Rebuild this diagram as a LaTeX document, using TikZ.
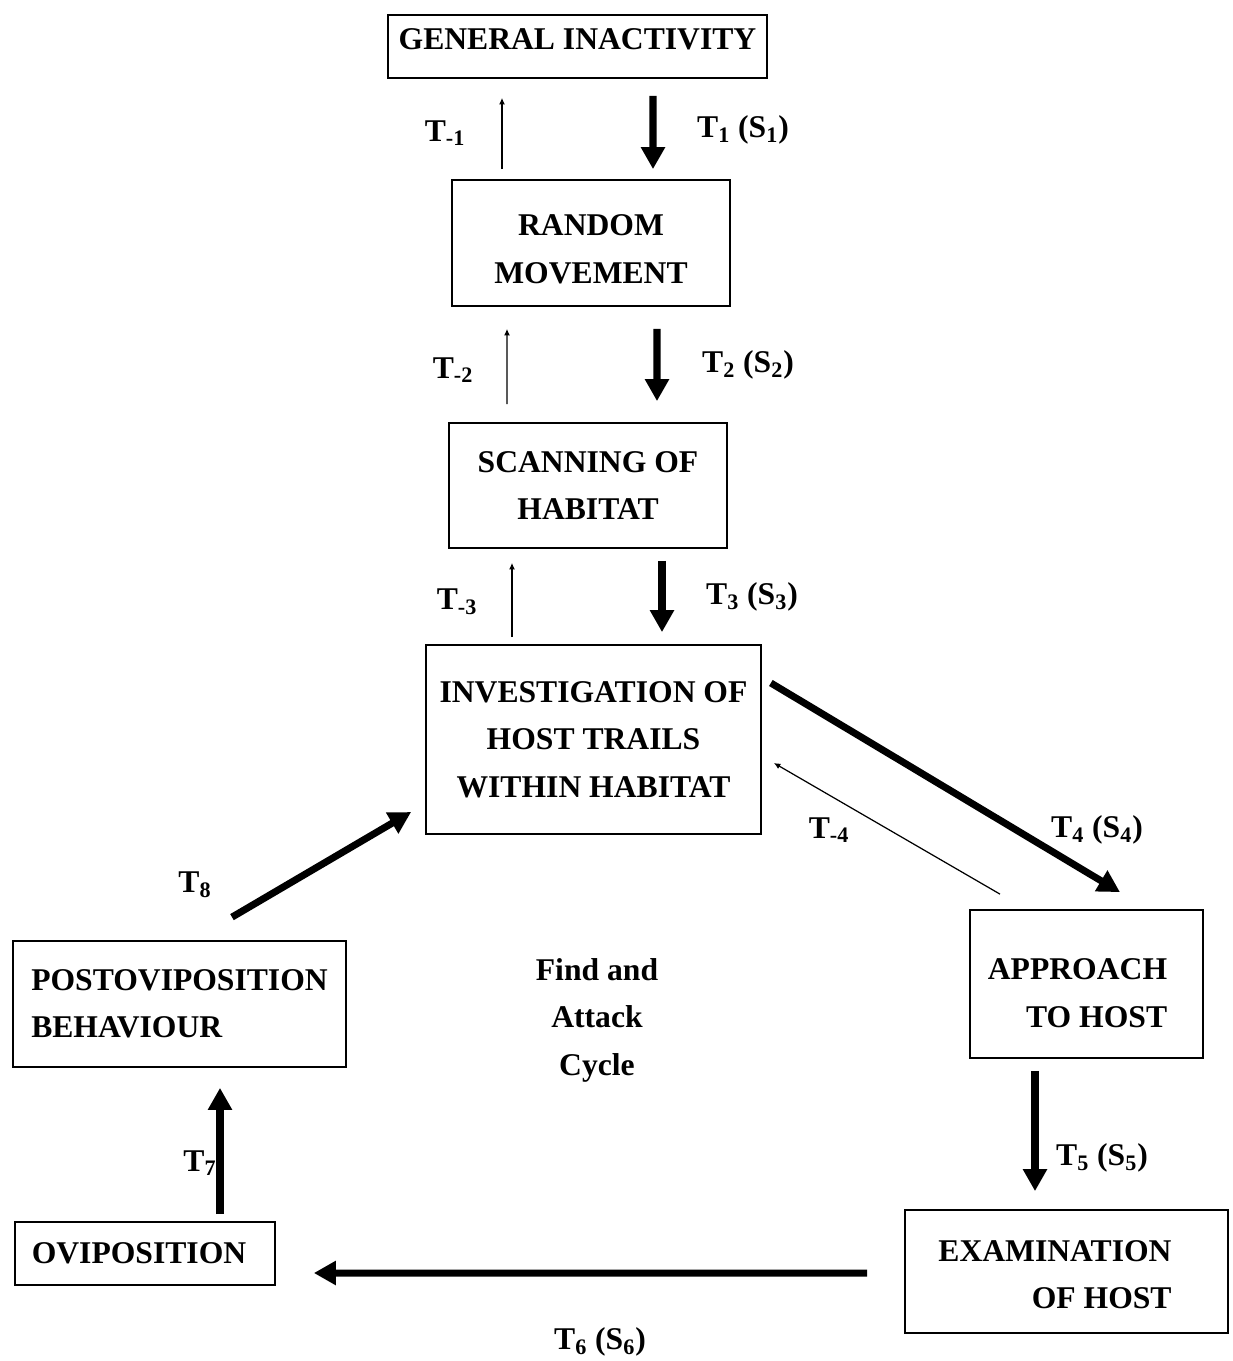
\documentclass[tikz,border=0pt]{standalone}
\usepackage{fontspec}
\setmainfont{Liberation Serif}
\usetikzlibrary{arrows.meta}

\begin{document}
\begin{tikzpicture}[font=\fontsize{18}{27}\selectfont\bfseries,
	box/.style={draw, line width=1pt, inner sep=0pt},
	fwd/.style={line width=4pt, -{Triangle[length=4.4mm,width=4.6mm]}},
	bwd/.style={line width=0.7pt, -{Latex[length=1.3mm,width=1.2mm]}}]
	\useasboundingbox (0,0) rectangle (24.64,-27.22);
	% states
	\node[box, minimum width=7.58cm, minimum height=1.26cm, text depth=9pt] (gi) at (11.55,-0.93) {GENERAL INACTIVITY};
	\node[box, minimum width=5.56cm, minimum height=2.52cm, align=center, text height=45.9pt] (rm) at (11.82,-4.86) {RANDOM\\MOVEMENT};
	\node[box, minimum width=5.56cm, minimum height=2.50cm, align=center] (sh) at (11.76,-9.71) {SCANNING OF\\HABITAT};
	\node[box, minimum width=6.70cm, minimum height=3.78cm, align=center] (inv) at (11.87,-14.79) {INVESTIGATION OF\\HOST TRAILS\\WITHIN HABITAT};
	\node[box, minimum width=4.66cm, minimum height=2.96cm, align=right, text height=49.1pt] (ap) at (21.73,-19.68) {APPROACH\hspace*{0.36cm}\\TO HOST\hspace*{0.36cm}};
	\node[box, minimum width=6.46cm, minimum height=2.46cm, align=right, text height=42.5pt] (ex) at (21.33,-25.43) {EXAMINATION\hspace*{0.46cm}\\OF HOST\hspace*{0.46cm}};
	\node[box, minimum width=5.20cm, minimum height=1.26cm] (ov) at (2.90,-25.07) {OVIPOSITION\hspace*{0.24cm}};
	\node[box, minimum width=6.66cm, minimum height=2.52cm, align=left] (pv) at (3.59,-20.08) {POSTOVIPOSITION\\BEHAVIOUR};
	\node[align=center] (cyc) at (11.94,-20.40) {Find and\\Attack\\Cycle};
	% transitions
	\draw[fwd, shorten <=0.34cm, shorten >=0.2cm] ([xshift=1.51cm]gi.south) -- ([xshift=1.24cm]rm.north);
	\draw[bwd, shorten <=0.2cm, shorten >=0.38cm] ([xshift=-1.78cm]rm.north) -- ([xshift=-1.51cm]gi.south);
	\draw[fwd, shorten <=0.44cm, shorten >=0.42cm] ([xshift=1.32cm]rm.south) -- ([xshift=1.38cm]sh.north);
	\draw[bwd, shorten <=0.36cm, shorten >=0.44cm] ([xshift=-1.62cm]sh.north) -- ([xshift=-1.68cm]rm.south);
	\draw[fwd, shorten <=0.24cm, shorten >=0.24cm] ([xshift=1.48cm]sh.south) -- ([xshift=1.37cm]inv.north);
	\draw[bwd, shorten <=0.14cm, shorten >=0.28cm] ([xshift=-1.63cm]inv.north) -- ([xshift=-1.52cm]sh.south);
	\draw[fwd] ([shift={(0.18,1.13)}]inv.east) -- ([shift={(0.67,0.34)}]ap.north);
	\draw[bwd] ([shift={(-1.73,0.30)}]ap.north) -- ([shift={(0.24,-0.47)}]inv.east);
	\draw[fwd, shorten <=0.24cm, shorten >=0.36cm] ([xshift=-1.03cm]ap.south) -- ([xshift=-0.63cm]ex.north);
	\draw[fwd, shorten <=0.74cm, shorten >=0.76cm] ([yshift=-0.03cm]ex.west) -- ([yshift=-0.39cm]ov.east);
	\draw[fwd, shorten <=0.14cm, shorten >=0.4cm] ([xshift=1.5cm]ov.north) -- ([xshift=0.81cm]pv.south);
	\draw[fwd] ([shift={(1.05,0.46)}]pv.north) -- ([shift={(-0.28,-1.45)}]inv.west);
	% labels
	\node (lm1) at (8.90,-2.66) {T\textsubscript{-1}};
	\node (l1) at (14.86,-2.60) {T\textsubscript{1} (S\textsubscript{1})};
	\node (lm2) at (9.06,-7.40) {T\textsubscript{-2}};
	\node (l2) at (14.96,-7.30) {T\textsubscript{2} (S\textsubscript{2})};
	\node (lm3) at (9.14,-12.04) {T\textsubscript{-3}};
	\node (l3) at (15.04,-11.94) {T\textsubscript{3} (S\textsubscript{3})};
	\node (lm4) at (16.58,-16.60) {T\textsubscript{-4}};
	\node (l4) at (21.94,-16.60) {T\textsubscript{4} (S\textsubscript{4})};
	\node (l5) at (22.04,-23.16) {T\textsubscript{5} (S\textsubscript{5})};
	\node (l6) at (12.0,-26.84) {T\textsubscript{6} (S\textsubscript{6})};
	\node (l7) at (4.0,-23.26) {T\textsubscript{7}};
	\node (l8) at (3.9,-17.70) {T\textsubscript{8}};
\end{tikzpicture}
\end{document}
